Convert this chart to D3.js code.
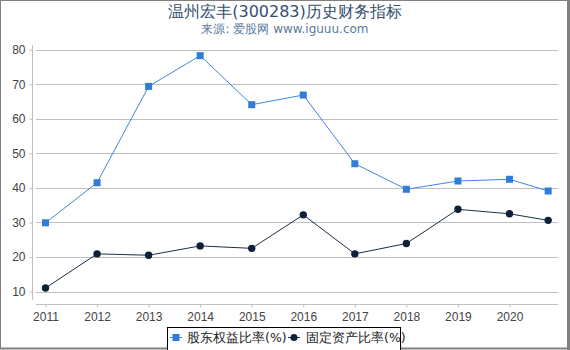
<!DOCTYPE html>
<meta charset="utf-8">
<style>
  body { margin: 0; background: #fff; }
  svg { display: block; font-family: "DejaVu Sans", sans-serif; }
  .grid line { stroke: #c0c0c0; stroke-width: 1; }
  .tick text { fill: #444; font-size: 12px; }
</style>
<svg width="570" height="350"></svg>
<script src="https://cdn.jsdelivr.net/npm/d3@7/dist/d3.min.js"></script>
<script>
var title = "温州宏丰(300283)历史财务指标"
var subtitle = "来源: 爱股网 www.iguuu.com"

var years = [2011, 2012, 2013, 2014, 2015, 2016, 2017, 2018, 2019, 2020, 2020.75]
var equityRatio = [29.9, 41.5, 69.4, 78.3, 64.1, 66.9, 47.0, 39.6, 42.0, 42.5, 39.1]
var fixedRatio = [11.0, 20.9, 20.5, 23.2, 22.5, 32.2, 20.9, 23.9, 33.8, 32.5, 30.6]
var yTicks = [10, 20, 30, 40, 50, 60, 70, 80]
var xTicks = [2011, 2012, 2013, 2014, 2015, 2016, 2017, 2018, 2019, 2020]
var seriesNames = ["股东权益比率(%)", "固定资产比率(%)"]

var svg = d3.select("svg")
var W = 570, H = 350

// frame
svg.append("rect").attr("x", 0.5).attr("y", 0.5).attr("width", W - 2).attr("height", H - 2)
  .attr("fill", "#fff").attr("stroke", "#808080").attr("stroke-width", 1)
svg.append("line").attr("x1", W - 1.5).attr("x2", W - 1.5).attr("y1", 0).attr("y2", H)
  .attr("stroke", "#808080").attr("stroke-width", 3)
svg.append("line").attr("x1", 0).attr("x2", W).attr("y1", H - 1.5).attr("y2", H - 1.5)
  .attr("stroke", "#808080").attr("stroke-width", 2)

svg.append("text").attr("x", 285).attr("y", 17).attr("text-anchor", "middle")
  .attr("fill", "#34506e").style("font-size", "16px").text(title)
svg.append("text").attr("x", 285).attr("y", 33).attr("text-anchor", "middle")
  .attr("fill", "#5a7aa0").style("font-size", "12px").text(subtitle)

var x = d3.scaleLinear().domain([2011, 2020]).range([45.5, 509.5])
var y = d3.scaleLinear().domain([10, 80]).range([291.5, 49.8])

// grid
svg.append("g").attr("class", "grid").selectAll("line").data(yTicks).enter().append("line")
  .attr("x1", 36).attr("x2", 558)
  .attr("y1", function(d) { return Math.round(y(d)) + 0.5 })
  .attr("y2", function(d) { return Math.round(y(d)) + 0.5 })

// y axis
var yAxis = svg.append("g").attr("transform", "translate(32.5,0)")
  .call(d3.axisLeft(y).tickValues(yTicks).tickSize(3).tickPadding(4).tickFormat(d3.format("d")))
yAxis.select(".domain").attr("d", "M0,45V300").attr("stroke", "#c0c0c0")
yAxis.selectAll(".tick line").attr("stroke", "#c0c0c0")

// x axis
var xAxis = svg.append("g").attr("transform", "translate(0,304.5)")
  .call(d3.axisBottom(x).tickValues(xTicks).tickSize(3).tickPadding(3).tickFormat(d3.format("d")))
xAxis.select(".domain").attr("d", "M36,0H558").attr("stroke", "#c0c0c0")
xAxis.selectAll(".tick line").attr("stroke", "#c0c0c0")
xAxis.selectAll(".tick text").attr("dy", "0.9em")

var line = d3.line().x(function(d) { return x(d[0]) }).y(function(d) { return y(d[1]) })
var blueData = d3.zip(years, equityRatio)
var darkData = d3.zip(years, fixedRatio)

svg.append("path").datum(blueData).attr("d", line).attr("fill", "none")
  .attr("stroke", "#3d86e0").attr("stroke-width", 1)
svg.append("g").selectAll("rect").data(blueData).enter().append("rect")
  .attr("x", function(d) { return x(d[0]) - 3.5 }).attr("y", function(d) { return y(d[1]) - 3.5 })
  .attr("width", 7).attr("height", 7).attr("fill", "#2f7dd9")

svg.append("path").datum(darkData).attr("d", line).attr("fill", "none")
  .attr("stroke", "#1c2e48").attr("stroke-width", 1)
svg.append("g").selectAll("circle").data(darkData).enter().append("circle")
  .attr("cx", function(d) { return x(d[0]) }).attr("cy", function(d) { return y(d[1]) })
  .attr("r", 3.7).attr("fill", "#0f2039")

// legend
var lg = svg.append("g")
lg.append("rect").attr("x", 167.5).attr("y", 327.5).attr("width", 233).attr("height", 24)
  .attr("fill", "#fff").attr("stroke", "#000").attr("stroke-width", 1)
lg.append("line").attr("x1", 170).attr("x2", 182).attr("y1", 337.5).attr("y2", 337.5).attr("stroke", "#3d86e0")
lg.append("rect").attr("x", 172.5).attr("y", 334).attr("width", 7).attr("height", 7).attr("fill", "#2f7dd9")
lg.append("text").attr("x", 187).attr("y", 342).attr("fill", "#222").style("font-size", "12.5px").text(seriesNames[0])
lg.append("line").attr("x1", 288).attr("x2", 300).attr("y1", 337.5).attr("y2", 337.5).attr("stroke", "#1c2e48")
lg.append("circle").attr("cx", 294).attr("cy", 337.5).attr("r", 3.5).attr("fill", "#0f2039")
lg.append("text").attr("x", 306).attr("y", 342).attr("fill", "#222").style("font-size", "12.5px").text(seriesNames[1])
</script>
